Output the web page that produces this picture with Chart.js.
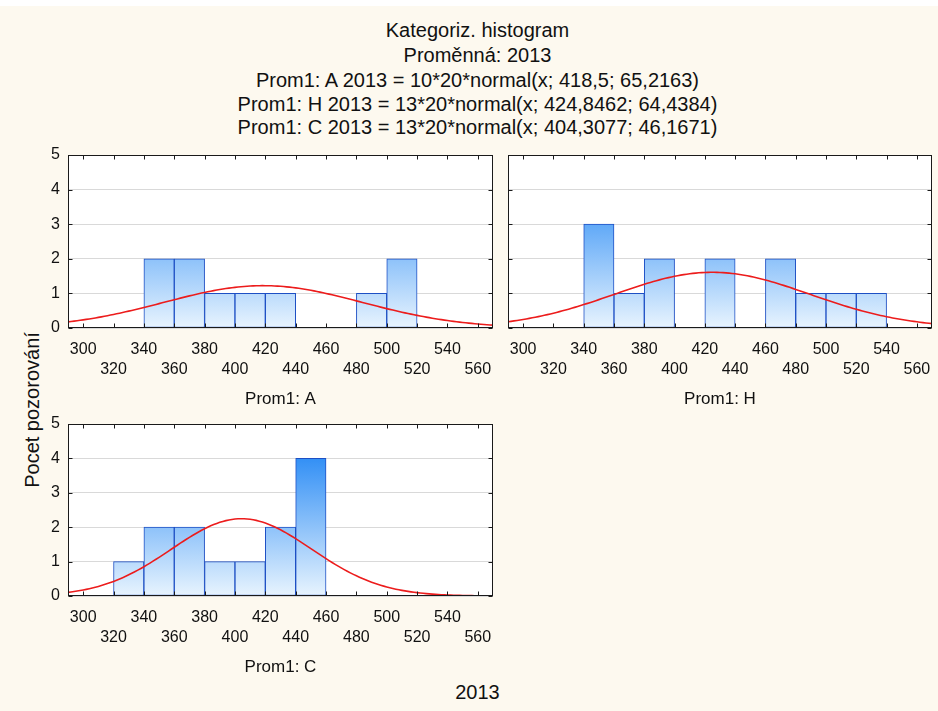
<!DOCTYPE html>
<html>
<head>
<meta charset="utf-8">
<script src="https://cdn.jsdelivr.net/npm/chart.js@4.4.1/dist/chart.umd.min.js"></script>
<style>
  html, body { margin: 0; padding: 0; }
  body {
    width: 938px; height: 711px; position: relative; overflow: hidden;
    background: #fdf9ef; color: #111;
    font-family: "Liberation Sans", Arial, sans-serif;
  }
  .strip { position: absolute; left: 0; top: 0; width: 938px; height: 6px; background: #fff; }
  .t { position: absolute; left: 0; width: 955px; text-align: center; white-space: nowrap;
       font-size: 20px; line-height: 24px; }
  .ylab { position: absolute; left: 32px; top: 410px; font-size: 20px; line-height: 24px;
          white-space: nowrap; transform: translate(-50%, -50%) rotate(-90deg); }
  canvas { position: absolute; }
</style>
</head>
<body>
<div class="strip"></div>
<div class="t" style="top:18px">Kategoriz. histogram</div>
<div class="t" style="top:43px">Proměnná: 2013</div>
<div class="t" style="top:68px">Prom1: A 2013 = 10*20*normal(x; 418,5; 65,2163)</div>
<div class="t" style="top:92px">Prom1: H 2013 = 13*20*normal(x; 424,8462; 64,4384)</div>
<div class="t" style="top:115px">Prom1: C 2013 = 13*20*normal(x; 404,3077; 46,1671)</div>
<div class="ylab">Pocet pozorování</div>
<div class="t" style="top:680px">2013</div>

<canvas id="cA" width="470" height="265" style="left:30px; top:145px"></canvas>
<canvas id="cH" width="438" height="265" style="left:500px; top:145px"></canvas>
<canvas id="cC" width="470" height="264" style="left:30px; top:414px"></canvas>

<script>
// Histogram bins: lower edges, width 20
const binLow = [320, 340, 360, 380, 400, 420, 440, 460, 480, 500, 520];
const binWidth = 20;

// Observation counts per bin for each group
const countsA = [0, 2, 2, 1, 1, 1, 0, 0, 1, 2, 0];
const countsH = [0, 3, 1, 2, 0, 2, 0, 2, 1, 1, 1];
const countsC = [1, 2, 2, 1, 1, 2, 4, 0, 0, 0, 0];

// Fitted normal curves: n * binWidth * normal(x; mean; sd)
const fitA = { n: 10, mean: 418.5, sd: 65.2163 };
const fitH = { n: 13, mean: 424.8462, sd: 64.4384 };
const fitC = { n: 13, mean: 404.3077, sd: 46.1671 };

// Axis ticks
const xTicks = [300, 320, 340, 360, 380, 400, 420, 440, 460, 480, 500, 520, 540, 560];
const yTicks = [0, 1, 2, 3, 4, 5];
const xMin = 290, xMax = 570;

const FONT = "'Liberation Sans', Arial, sans-serif";

function curvePoints(fit) {
  const pts = [];
  for (let x = xMin; x <= xMax; x += 2) {
    const z = (x - fit.mean) / fit.sd;
    const y = fit.n * binWidth * Math.exp(-0.5 * z * z) / (fit.sd * Math.sqrt(2 * Math.PI));
    pts.push({ x, y });
  }
  return pts;
}

function barGradient(chart) {
  const a = chart.chartArea;
  if (!a) return '#8cc4f8';
  const g = chart.ctx.createLinearGradient(0, a.bottom, 0, a.top);
  g.addColorStop(0, '#e8f4fe');
  g.addColorStop(1, '#0677f3');
  return g;
}

// White plot background, black frame and inward tick marks
const framePlugin = {
  id: 'frame',
  beforeDraw(chart) {
    const { ctx, chartArea: a } = chart;
    ctx.save();
    ctx.fillStyle = '#ffffff';
    ctx.fillRect(a.left, a.top, a.right - a.left, a.bottom - a.top);
    ctx.restore();
  },
  afterDraw(chart) {
    const { ctx, chartArea: a, scales } = chart;
    const L = Math.round(a.left) + 0.5, R = Math.round(a.right) - 0.5;
    const T = Math.round(a.top) + 0.5, B = Math.round(a.bottom) - 0.5;
    const tl = 4;
    ctx.save();
    ctx.strokeStyle = '#1a1a1a';
    ctx.lineWidth = 1;
    ctx.beginPath();
    scales.x.ticks.forEach(t => {
      const px = Math.round(scales.x.getPixelForValue(t.value)) + 0.5;
      ctx.moveTo(px, B); ctx.lineTo(px, B - tl);
      ctx.moveTo(px, T); ctx.lineTo(px, T + tl);
    });
    scales.y.ticks.forEach(t => {
      const py = Math.round(scales.y.getPixelForValue(t.value)) + 0.5;
      ctx.moveTo(L, py); ctx.lineTo(L + tl, py);
      ctx.moveTo(R, py); ctx.lineTo(R - tl, py);
    });
    ctx.stroke();
    ctx.strokeRect(L, T, R - L, B - T);
    ctx.restore();
  }
};

function makePanel(id, counts, fit, title, showY, yWidth, padRight) {
  const bars = binLow.map((lo, i) => ({ x: lo + binWidth / 2, y: counts[i] > 0 ? counts[i] : null }));
  return new Chart(document.getElementById(id), {
    type: 'bar',
    data: {
      datasets: [
        {
          type: 'line', data: curvePoints(fit), order: 0,
          borderColor: '#ec1c1c', borderWidth: 1.6, pointRadius: 0, tension: 0, fill: false
        },
        {
          type: 'bar', data: bars, order: 1,
          backgroundColor: ctx => barGradient(ctx.chart),
          borderColor: '#1d4fc4', borderWidth: 1, borderSkipped: false,
          barPercentage: 1, categoryPercentage: 1
        }
      ]
    },
    options: {
      responsive: false, animation: false, events: [],
      layout: { padding: { top: 10, right: padRight, left: 0, bottom: 0 } },
      plugins: { legend: { display: false }, tooltip: { enabled: false }, title: { display: false } },
      scales: {
        x: {
          type: 'linear', min: xMin, max: xMax, offset: false,
          afterBuildTicks: s => { s.ticks = xTicks.map(v => ({ value: v })); },
          afterFit: s => { s.height = 82; s.paddingLeft = 0; s.paddingRight = 0; },
          grid: { display: false, drawTicks: false },
          border: { display: false },
          ticks: {
            autoSkip: false, maxRotation: 0, minRotation: 0, padding: 12, color: '#111',
            font: { family: FONT, size: 16, lineHeight: 1.25 },
            callback: (v, i) => (i % 2 === 0 ? String(v) : ['', String(v)])
          },
          title: {
            display: true, text: title, color: '#111',
            font: { family: FONT, size: 17 }, padding: { top: 0, bottom: 0 }
          }
        },
        y: {
          min: 0, max: 5,
          afterBuildTicks: s => { s.ticks = yTicks.map(v => ({ value: v })); },
          afterFit: s => { s.width = yWidth; s.paddingTop = 0; s.paddingBottom = 0; },
          grid: { color: '#d9d9d9', drawTicks: false, lineWidth: 1 },
          border: { display: false },
          ticks: { display: showY, padding: 8, color: '#111', font: { family: FONT, size: 16 } }
        }
      }
    },
    plugins: [framePlugin]
  });
}

makePanel('cA', countsA, fitA, 'Prom1: A', true, 38, 7);
makePanel('cH', countsH, fitH, 'Prom1: H', false, 8, 6);
makePanel('cC', countsC, fitC, 'Prom1: C', true, 38, 7);
</script>
</body>
</html>
